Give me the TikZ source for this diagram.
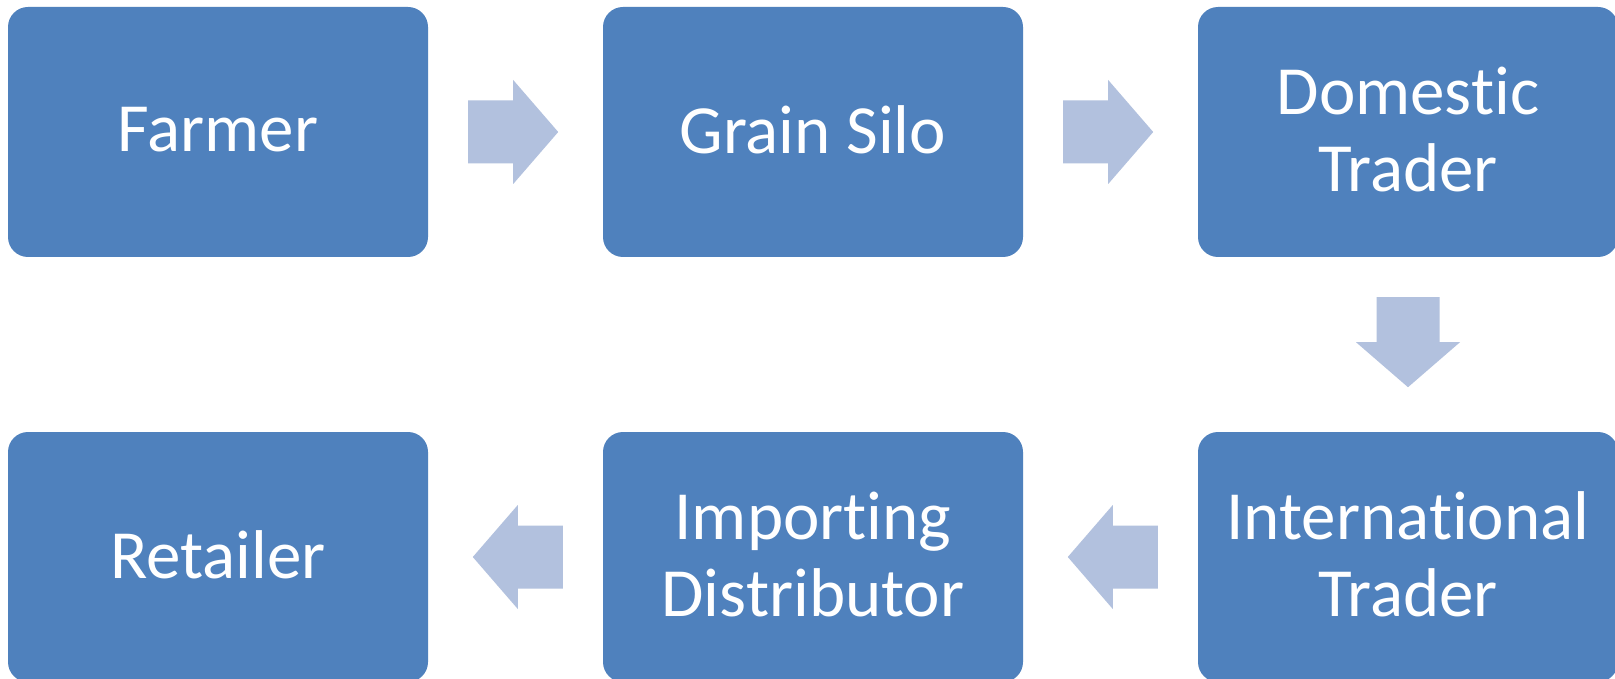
\documentclass[tikz,border=0pt]{standalone}
\usepackage{fontspec}
\setmainfont{Carlito}[Ligatures={NoCommon,NoContextual}]
\usetikzlibrary{calc}
\definecolor{boxblue}{HTML}{4F81BD}
\definecolor{arrowblue}{HTML}{B2C1DE}
\newcommand\rightarr[1]{\fill[arrowblue] (#1.east) ++(40,-31.5) -- ++(45,0) -- ++(0,-20.5) -- ++(45,52) -- ++(-45,52) -- ++(0,-20.5) -- ++(-45,0) -- cycle;}
\newcommand\leftarr[1]{\fill[arrowblue] (#1.west) ++(-40,-31.5) -- ++(-45,0) -- ++(0,-20.5) -- ++(-45,52) -- ++(45,52) -- ++(0,-20.5) -- ++(45,0) -- cycle;}
\newcommand\downarr[1]{\fill[arrowblue] (#1.south) ++(-31.5,40) -- ++(0,45) -- ++(-20.5,0) -- ++(52,45) -- ++(52,-45) -- ++(-20.5,0) -- ++(0,-45) -- cycle;}
\begin{document}
\begin{tikzpicture}[x=1pt,y=-1pt,
  box/.style={fill=boxblue, rounded corners=20pt, minimum width=420pt, minimum height=250pt,
    text=white, font=\fontsize{69}{77}\selectfont, align=center, inner sep=0pt, text depth=5pt}]
\fill[white] (0,0) rectangle (1615,679);
\useasboundingbox (0,0) rectangle (1615,679);
\node[box] (farmer) at (218,132) {Farmer};
\node[box] (silo) at (813,132) {Grain Silo};
\node[box] (dom) at (1408,132) {Domestic\\Trader};
\node[box] (intl) at (1408,557) {International\\Trader};
\node[box] (imp) at (813,557) {Importing\\Distributor};
\node[box] (ret) at (218,557) {Retailer};
\rightarr{farmer}
\rightarr{silo}
\downarr{dom}
\leftarr{intl}
\leftarr{imp}
\end{tikzpicture}
\end{document}
